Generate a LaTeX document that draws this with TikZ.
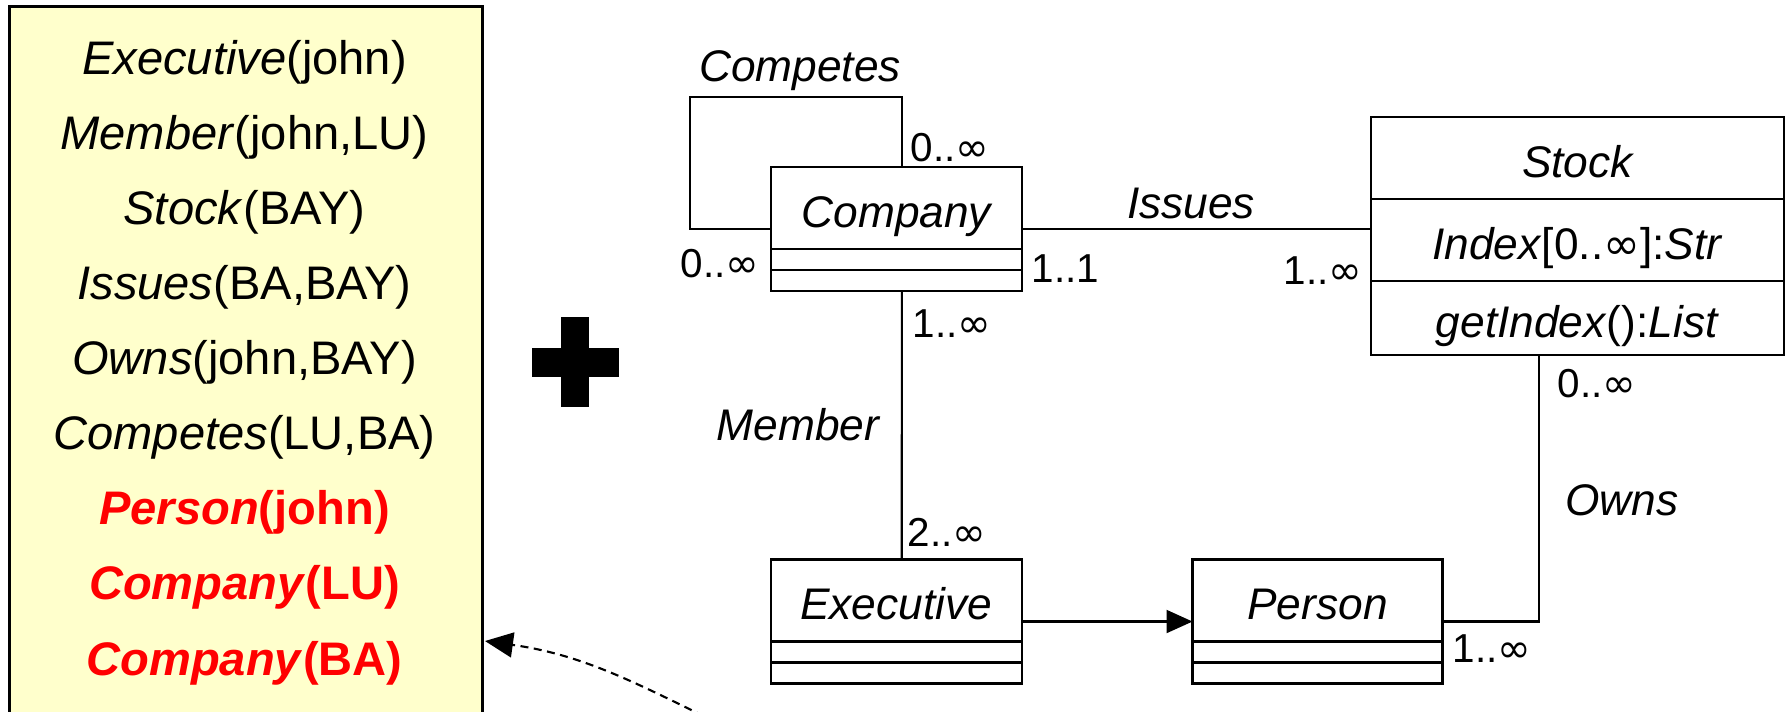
\documentclass[tikz,border=0pt]{standalone}
\usepackage{fontspec}
\setmainfont{Liberation Sans}
\newfontface\infface{DejaVu Sans}
\newcommand\infsym{{\infface ∞}}
\usetikzlibrary{arrows.meta,positioning,fit}
\definecolor{factpad}{HTML}{FFFFCC}
\definecolor{factred}{HTML}{FF0000}
\tikzset{
  cls/.style={draw, line width=0.6pt, outer sep=0pt, inner sep=0pt, text height=11pt, text depth=0pt},
  clsname/.style={cls, font=\fontsize{12.6}{14}\selectfont\itshape, minimum width=25.1mm, minimum height=8.2mm},
  clsrow/.style={cls, font=\fontsize{12.6}{14}\selectfont, minimum width=41.3mm, minimum height=8.2mm},
  slot/.style={draw, line width=0.6pt, outer sep=0pt, inner sep=0pt, minimum width=25.1mm, minimum height=2.1mm},
  hull/.style={inner sep=0pt, outer sep=0pt},
  assoc/.style={line width=0.6pt},
  isa/.style={line width=0.6pt, -{Triangle[length=2.6mm, width=2.3mm]}},
  hint/.style={line width=0.6pt, dash pattern=on 0.8mm off 0.55mm, -{Triangle[length=2.8mm, width=2.5mm]}},
  mult/.style={font=\fontsize{11.5}{13}\selectfont, anchor=west, inner sep=0pt, text height=8.2pt, text depth=0pt},
  role/.style={font=\fontsize{12.6}{14}\selectfont\itshape, inner sep=0pt, text height=9pt, text depth=0pt},
  fact/.style={font=\fontsize{13.4}{16}\selectfont, inner sep=0pt, text height=9.6pt, text depth=0pt},
  factbox/.style={draw, line width=0.8pt, fill=factpad, anchor=north west, minimum width=47.3mm, minimum height=74mm},
}

\begin{document}
\begin{tikzpicture}[x=0.1mm, y=-0.1mm]
  \useasboundingbox (0,0) rectangle (1785,711);
  \clip (0,0) rectangle (1785,711);

  % ABox facts, the last three are the inferred ones
  \node[factbox] (facts) at (8,5) {};
  \foreach \i/\col/\tx in {
    0/black/{\textit{Executive}(john)},
    1/black/{\textit{Member}(john,LU)},
    2/black/{\textit{Stock}(BAY)},
    3/black/{\textit{Issues}(BA,BAY)},
    4/black/{\textit{Owns}(john,BAY)},
    5/black/{\textit{Competes}(LU,BA)},
    6/factred/{\bfseries\textit{Person}(john)},
    7/factred/{\bfseries\textit{Company}(LU)},
    8/factred/{\bfseries\textit{Company}(BA)}}
  {
    \node[fact, text=\col] (fact-\i) at (244.5,57.4+\i*75.1) {\tx};
  }

  % plus sign
  \fill (561,317) rectangle (589,407);
  \fill (532,348) rectangle (619,377);

  % classes
  \node[clsname] (company) at (896.4,208.3) {Company};
  \node[slot, below=0pt of company] (company-a) {};
  \node[slot, below=0pt of company-a] (company-o) {};
  \node[hull, fit=(company)(company-o)] (company-box) {};

  \node[clsname] (executive) at (896.2,600.5) {Executive};
  \node[slot, below=0pt of executive] (executive-a) {};
  \node[slot, below=0pt of executive-a] (executive-o) {};
  \node[hull, fit=(executive)(executive-o)] (executive-box) {};

  \node[clsname, minimum width=25mm] (person) at (1317.5,600.5) {Person};
  \node[slot, minimum width=25mm, below=0pt of person] (person-a) {};
  \node[slot, minimum width=25mm, below=0pt of person-a] (person-o) {};
  \node[hull, fit=(person)(person-o)] (person-box) {};

  \node[clsname, minimum width=41.3mm] (stock) at (1577.5,158) {Stock};
  \node[clsrow, below=0pt of stock] (stock-a) {\textit{Index}[0..\infsym]:\textit{Str}};
  \node[clsrow, minimum height=7.4mm, below=0pt of stock-a] (stock-o) {\textit{getIndex}():\textit{List}};
  \node[hull, fit=(stock)(stock-o)] (stock-box) {};

  % associations
  \draw[assoc] ([xshift=0.55mm]company-box.north) -- ++(0,-70.6) -- ++(-212,0) |- (company-box.west);
  \draw[assoc] (company-box.east) -- (company-box.east -| stock-box.west);
  \draw[assoc] ([xshift=0.55mm]company-box.south) -- ([xshift=0.55mm]executive-box.north);
  \draw[assoc] (person-box.east) -| ([xshift=-3.85mm]stock-box.south);
  \draw[isa] (executive-box.east) -- (person-box.west);

  \node[role] (competes) at (800,66) {Competes};
  \node[role] (issues) at (1191,203) {Issues};
  \node[role] (member) at (798,425) {Member};
  \node[role] (owns) at (1622,500) {Owns};

  \node[mult] (m-comp-top) at (910,147) {0..\infsym};
  \node[mult] (m-comp-left) at (680,263) {0..\infsym};
  \node[mult] (m-comp-bot) at (912,323) {1..\infsym};
  \node[mult] (m-comp-right) at (1031,268) {1..1};
  \node[mult] (m-stock-left) at (1283,270) {1..\infsym};
  \node[mult] (m-stock-bot) at (1557,383) {0..\infsym};
  \node[mult] (m-exec) at (907,532) {2..\infsym};
  \node[mult] (m-person) at (1452,648) {1..\infsym};

  % back to the fact list
  \coordinate (tail) at (728,728);
  \coordinate (tip) at (485,641);
  \draw[hint] (tail) to[out=154, in=-8] (tip);
\end{tikzpicture}
\end{document}
